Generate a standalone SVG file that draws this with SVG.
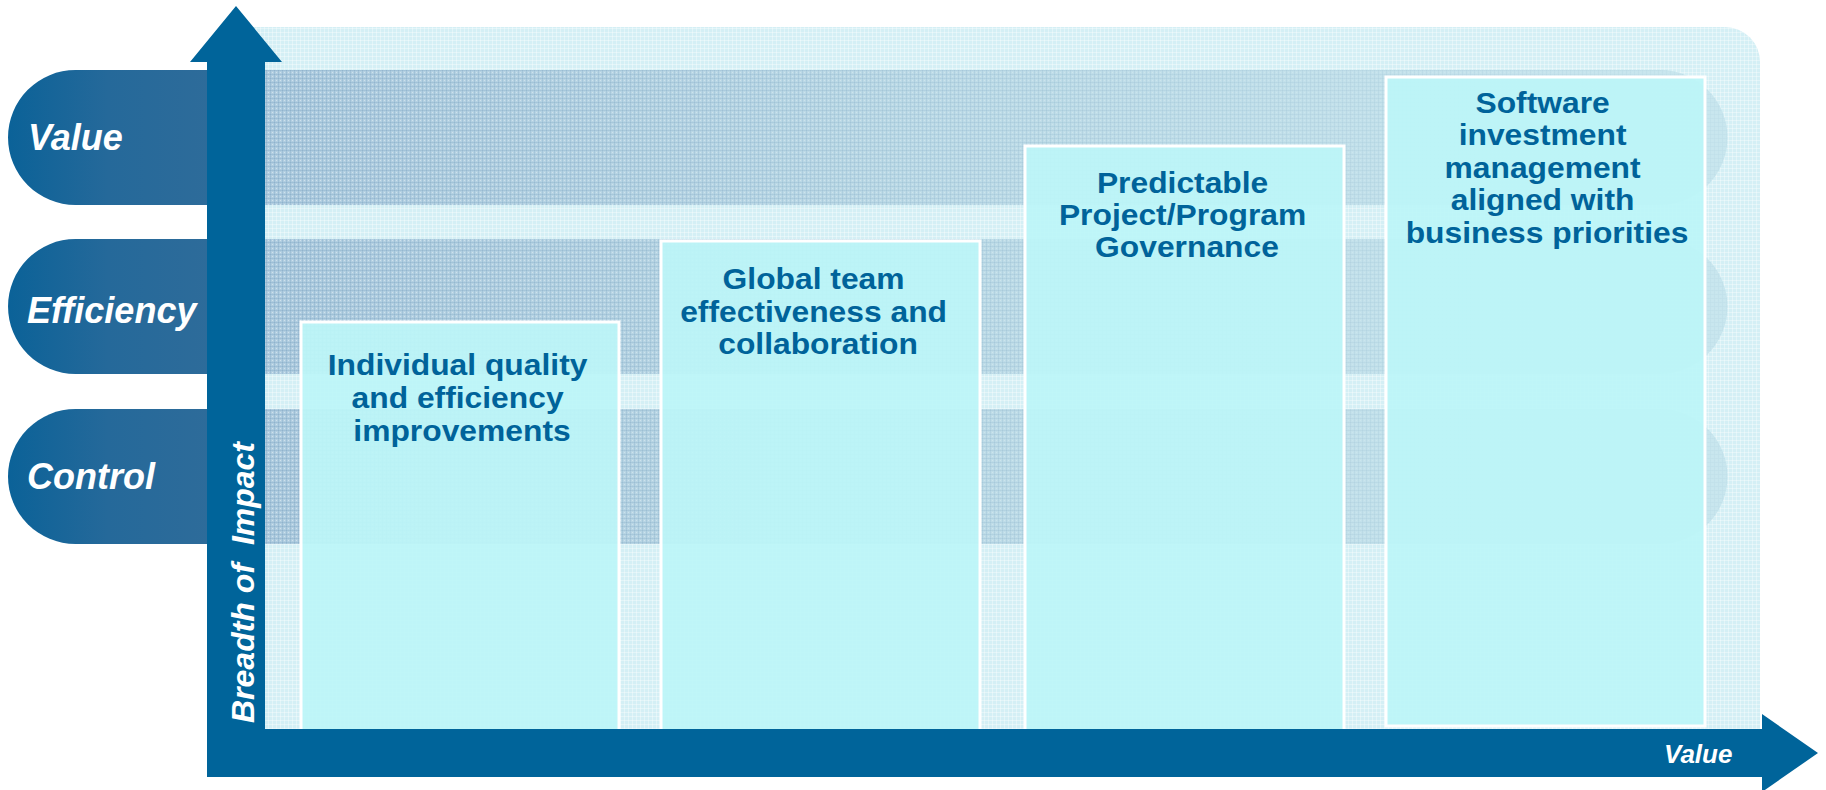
<svg xmlns="http://www.w3.org/2000/svg" width="1826" height="790" viewBox="0 0 1826 790">
  <style>
    .pillText { font-family: "Liberation Sans", Arial, sans-serif; font-weight: bold; font-style: italic; fill: #ffffff; }
    .boxText { font-family: "Liberation Sans", Arial, sans-serif; font-weight: bold; font-size: 30px; fill: #00639a; text-anchor: middle; }
    .box { fill: #bcf5f8; fill-opacity: 0.93; stroke: #ffffff; stroke-width: 3; }
    .axis { fill: #00649a; }
  </style>
  <defs>
    <pattern id="grid" width="4" height="4" patternUnits="userSpaceOnUse">
      <rect x="0" y="0" width="4" height="1" fill="#ffffff" fill-opacity="0.35"/>
      <rect x="0" y="0" width="1" height="4" fill="#ffffff" fill-opacity="0.35"/>
    </pattern>
    <pattern id="gridDark" width="4" height="4" patternUnits="userSpaceOnUse">
      <rect x="0" y="2" width="4" height="1" fill="#5f8db0" fill-opacity="0.22"/>
      <rect x="2" y="0" width="1" height="4" fill="#5f8db0" fill-opacity="0.22"/>
      <rect x="0" y="0" width="1" height="1" fill="#ffffff" fill-opacity="0.4"/>
    </pattern>
    <linearGradient id="pillGrad" gradientUnits="userSpaceOnUse" x1="8" y1="0" x2="230" y2="0">
      <stop offset="0" stop-color="#0b6298"/>
      <stop offset="0.45" stop-color="#25699a"/>
      <stop offset="1" stop-color="#2f6c9a"/>
    </linearGradient>
    <linearGradient id="bandGrad" gradientUnits="userSpaceOnUse" x1="265" y1="0" x2="1727" y2="0">
      <stop offset="0" stop-color="#b0cde0"/>
      <stop offset="0.45" stop-color="#bddbe7"/>
      <stop offset="1" stop-color="#c8e6ee"/>
    </linearGradient>
    <linearGradient id="bandHatchFade" gradientUnits="userSpaceOnUse" x1="265" y1="0" x2="1727" y2="0">
      <stop offset="0" stop-color="#ffffff" stop-opacity="1"/>
      <stop offset="1" stop-color="#ffffff" stop-opacity="0.15"/>
    </linearGradient>
    <mask id="hatchMask">
      <rect x="0" y="0" width="1826" height="790" fill="url(#bandHatchFade)"/>
    </mask>
  </defs>

  <!-- background panel -->
  <g id="background">
    <path d="M240,27 H1725 A35,35 0 0 1 1760,62 V740 H240 Z" fill="#d4eff5"/>
    <path d="M240,27 H1725 A35,35 0 0 1 1760,62 V740 H240 Z" fill="url(#grid)"/>
  </g>

  <!-- bands -->
  <g id="bands">
    <path d="M230,70 H1660 A67.5,67.5 0 0 1 1660,205 H230 Z" fill="url(#bandGrad)"/>
    <path d="M230,239 H1660 A67.5,67.5 0 0 1 1660,374 H230 Z" fill="url(#bandGrad)"/>
    <path d="M230,409 H1660 A67.5,67.5 0 0 1 1660,544 H230 Z" fill="url(#bandGrad)"/>
    <g mask="url(#hatchMask)">
      <path d="M230,70 H1660 A67.5,67.5 0 0 1 1660,205 H230 Z" fill="url(#gridDark)"/>
      <path d="M230,239 H1660 A67.5,67.5 0 0 1 1660,374 H230 Z" fill="url(#gridDark)"/>
      <path d="M230,409 H1660 A67.5,67.5 0 0 1 1660,544 H230 Z" fill="url(#gridDark)"/>
    </g>
  </g>

  <!-- level pills -->
  <g id="pill-value">
    <path d="M75.5,70 H230 V205 H75.5 A67.5,67.5 0 0 1 75.5,70 Z" fill="url(#pillGrad)"/>
    <text class="pillText" x="28" y="150" font-size="36">Value</text>
  </g>
  <g id="pill-efficiency">
    <path d="M75.5,239 H230 V374 H75.5 A67.5,67.5 0 0 1 75.5,239 Z" fill="url(#pillGrad)"/>
    <text class="pillText" x="27" y="323" font-size="36">Efficiency</text>
  </g>
  <g id="pill-control">
    <path d="M75.5,409 H230 V544 H75.5 A67.5,67.5 0 0 1 75.5,409 Z" fill="url(#pillGrad)"/>
    <text class="pillText" x="27" y="489" font-size="36">Control</text>
  </g>

  <!-- boxes -->
  <g id="box-individual">
    <rect class="box" x="301" y="322" width="318" height="415"/>
    <text class="boxText" transform="translate(462 0) scale(1.06 1)">
      <tspan x="0" y="375">Individual quality</tspan>
      <tspan x="0" y="408">and efficiency</tspan>
      <tspan x="0" y="441">improvements</tspan>
    </text>
  </g>
  <g id="box-global">
    <rect class="box" x="661" y="241" width="319" height="496"/>
    <text class="boxText" transform="translate(818 0) scale(1.06 1)">
      <tspan x="0" y="289">Global team</tspan>
      <tspan x="0" y="322">effectiveness and</tspan>
      <tspan x="0" y="354">collaboration</tspan>
    </text>
  </g>
  <g id="box-predictable">
    <rect class="box" x="1025" y="146" width="319" height="591"/>
    <text class="boxText" transform="translate(1187 0) scale(1.06 1)">
      <tspan x="0" y="193">Predictable</tspan>
      <tspan x="0" y="225">Project/Program</tspan>
      <tspan x="0" y="257">Governance</tspan>
    </text>
  </g>
  <g id="box-software">
    <rect class="box" x="1386" y="77" width="319" height="649"/>
    <text class="boxText" transform="translate(1547 0) scale(1.06 1)">
      <tspan x="0" y="113">Software</tspan>
      <tspan x="0" y="145.5">investment</tspan>
      <tspan x="0" y="178">management</tspan>
      <tspan x="0" y="210.5">aligned with</tspan>
      <tspan x="0" y="243">business priorities</tspan>
    </text>
  </g>

  <!-- axes -->
  <g id="axes">
    <polygon class="axis" points="207,777 207,62 190,62 236,6 282,62 265,62 265,729 1762,729 1762,714 1818,753 1762,792 1762,777"/>
    <text class="pillText" font-size="32" transform="translate(254 723) rotate(-90)">Breadth of <tspan dx="9">Impact</tspan></text>
    <text class="pillText" font-size="26" x="1664" y="763">Value</text>
  </g>
</svg>
